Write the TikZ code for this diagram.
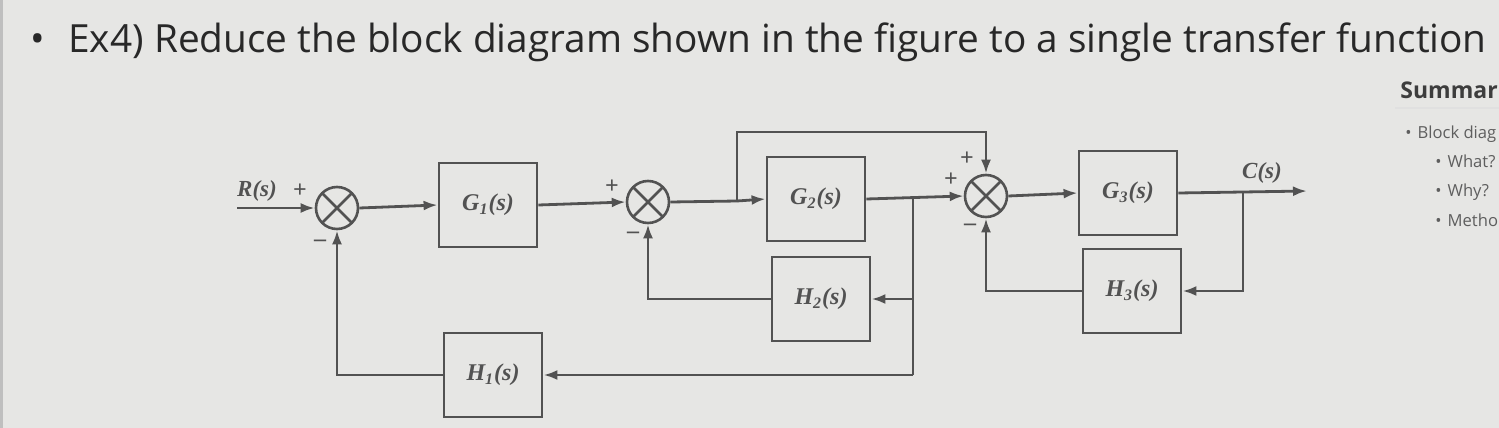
\documentclass[tikz,border=0pt]{standalone}
\usepackage{fontspec}
\setmainfont{Liberation Serif}
\newfontfamily\uifont{Open Sans}
\usetikzlibrary{arrows.meta,calc}
\definecolor{bg}{RGB}{230,230,228}
\definecolor{ln}{RGB}{82,82,82}
\definecolor{tx}{RGB}{40,40,40}
\begin{document}
\begin{tikzpicture}[x=0.5pt,y=-0.5pt,
  blk/.style={draw=ln, line width=1.4pt, minimum width=49pt, minimum height=42pt, inner sep=0pt,
    font=\fontsize{12}{14}\selectfont\bfseries\itshape, text=ln},
  sumj/.style={circle, draw=ln, line width=1.3pt, minimum size=21pt, inner sep=0pt,
    path picture={\draw[ln,line width=1.3pt]
      (path picture bounding box.north west)--(path picture bounding box.south east)
      (path picture bounding box.north east)--(path picture bounding box.south west);}},
  sig/.style={font=\fontsize{12}{12}\selectfont\bfseries, text=ln, inner sep=0pt},
  lbl/.style={font=\fontsize{11.5}{13}\selectfont\bfseries\itshape, text=ln, inner sep=0pt},
  wire/.style={draw=ln, line width=1.4pt},
  arr/.style={wire, -{Latex[length=7pt,width=5pt]}},
  ui/.style={font=\uifont\fontsize{19.4}{22}\selectfont, text=tx, inner sep=0pt},
  side/.style={font=\uifont\fontsize{8.3}{10}\selectfont, text=tx!75, inner sep=0pt, anchor=base west}
]
\fill[bg] (0,0) rectangle (1499,428);
\useasboundingbox (0,0) rectangle (1499,428);
\clip (0,0) rectangle (1499,428);
\fill[black!25] (0,0) rectangle (3,428);

% title
\node[ui, anchor=base] (bul) at (38,52) {•};
\node[ui, anchor=base west] (title) at (68,52) {Ex4) Reduce the block diagram shown in the figure to a single transfer function};

% side panel
\node[font=\uifont\bfseries\fontsize{11.5}{13}\selectfont, text=tx!90, inner sep=0pt, anchor=base west] (sumh) at (1400,98) {Summar};
\draw[black!12, line width=0.6pt] (1395,108) -- (1499,108);
\node[side] (s1) at (1405,138) {•\hspace{3pt}Block diag};
\node[side] (s2) at (1435,167) {•\hspace{3pt}What?};
\node[side] (s3) at (1435,196) {•\hspace{3pt}Why?};
\node[side] (s4) at (1435,226) {•\hspace{3pt}Metho};

% blocks
\node[sumj] (s1j) at (337,208) {};
\node[blk] (G1) at (488,205) {G\textsubscript{1}(s)};
\node[sumj] (s2j) at (648,202) {};
\node[blk] (G2) at (816,199) {G\textsubscript{2}(s)};
\node[sumj] (s3j) at (986,196) {};
\node[blk] (G3) at (1128,193) {G\textsubscript{3}(s)};
\node[blk] (H1) at (493,375) {H\textsubscript{1}(s)};
\node[blk] (H2) at (821,299) {H\textsubscript{2}(s)};
\node[blk] (H3) at (1132,291) {H\textsubscript{3}(s)};

\coordinate (in) at (237,208);
\coordinate (out) at (1307,191);
\coordinate (b1) at (737,201);
\coordinate (t1) at (737,132);
\coordinate (t2) at (986,132);
\coordinate (b2) at (913,197);
\coordinate (b2d) at (913,375);
\coordinate (b3) at (1243,191);

% labels
\node[lbl] (R) at (257,191) {R(s)};
\node[lbl] (C) at (1262,173) {C(s)};
\node[sig] (p1) at (300,191) {+};
\node[sig] (m1) at (320,243) {--};
\node[sig] (p2) at (612,187) {+};
\node[sig] (m2) at (633,235) {--};
\node[sig] (p3) at (951,180) {+};
\node[sig] (p4) at (967,159) {+};
\node[sig] (m3) at (970,227) {--};

% forward path
\draw[arr] (in) -- (s1j.west);
\draw[arr] (s1j.east) -- (G1.west);
\draw[arr] (G1.east) -- (s2j.west);
\draw[wire] (s2j.east) -- (b1);
\draw[arr] (b1) -- (G2.west);
\draw[arr] (G2.east) -- (s3j.west);
\draw[arr] (s3j.east) -- (G3.west);
\draw[arr] (G3.east) -- (out);

% feedforward over G2
\draw[arr] (b1) -- (t1) -- (t2) -- (s3j.north);

% feedback loops
\draw[arr] (b2) |- (H2.east);
\draw[arr] (H2.west) -| (s2j.south);
\draw[wire] (b2) -- (b2d);
\draw[arr] (b2d) -- (H1.east);
\draw[arr] (H1.west) -| (s1j.south);
\draw[arr] (b3) |- (H3.east);
\draw[arr] (H3.west) -| (s3j.south);
\end{tikzpicture}
\end{document}
